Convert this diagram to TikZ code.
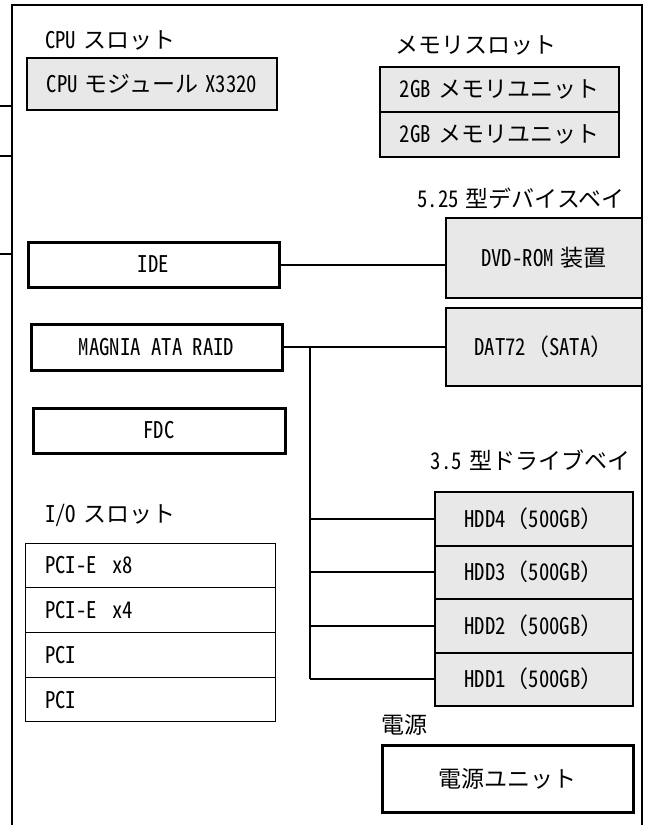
\documentclass[tikz,border=0pt]{standalone}
\usepackage{fontspec}
\setmainfont{Noto Sans CJK JP}
\newfontfamily\hw{Noto Sans CJK JP}[RawFeature=+hwid, FakeStretch=0.9]
\newcommand{\gapsp}{\hspace{7pt}}
\begin{document}
\begin{tikzpicture}[x=1pt,y=-1pt,
  every node/.style={font=\fontsize{23}{27}\selectfont, inner sep=0pt},
  lbl/.style={anchor=west},
  gbox/.style={draw, line width=2pt, fill=gray!18},
  wbox/.style={draw, line width=3pt, fill=white},
  slot/.style={draw, line width=1pt, minimum width=250, minimum height=44.75, inner xsep=20pt, text width=210, align=left},
  hdd/.style={gbox, minimum width=198, minimum height=53.5},
  conn/.style={line width=2pt},
]
\useasboundingbox (0,0) rectangle (650,825);
% frame
\draw[line width=2.5pt] (12,830) -- (12,5) -- (642,5) -- (642,830);
% left stubs
\coordinate (s1) at (0,106);  \coordinate (f1) at (12,106);
\coordinate (s2) at (0,156);  \coordinate (f2) at (12,156);
\coordinate (s3) at (0,254);  \coordinate (f3) at (12,254);
\draw[conn] (s1) -- (f1);
\draw[conn] (s2) -- (f2);
\draw[conn] (s3) -- (f3);
% CPU
\node[lbl] (cpul) at (45,40) {{\hw CPU}\gapsp スロット};
\node[gbox, minimum width=250, minimum height=52] (cpu) at (152,84) {{\hw CPU}\gapsp モジュール\gapsp{\hw X3320}};
% memory
\node (meml) at (476,45) {メモリスロット};
\node[gbox, minimum width=239, minimum height=45] (mem1) at (499.5,89.5) {{\hw 2GB}\gapsp メモリユニット};
\node[gbox, minimum width=239, minimum height=45] (mem2) at (499.5,134.5) {{\hw 2GB}\gapsp メモリユニット};
% 5.25 bay
\node (bayl) at (521,198) {{\hw 5.25}\gapsp 型デバイスベイ};
\node[gbox, minimum width=196, minimum height=80] (dvd) at (544,258) {{\hw DVD-ROM}\gapsp 装置};
\node[gbox, minimum width=196, minimum height=78] (dat) at (544,347) {{\hw DAT72}（{\hw SATA}）};
% controllers
\node[wbox, minimum width=251, minimum height=45] (ide) at (153.5,264.5) {\hw IDE};
\node[wbox, minimum width=251, minimum height=46] (raid) at (156.5,347) {\hw MAGNIA ATA RAID};
\node[wbox, minimum width=252, minimum height=45] (fdc) at (159,430.5) {\hw FDC};
\draw[conn] (ide.east) -- (ide.east -| dvd.west);
\draw[conn] (raid.east) -- (raid.east -| dat.west);
% I/O slots
\node[lbl] (iol) at (45,515) {{\hw I/O}\gapsp スロット};
\node[slot] (pci1) at (150,565.4) {\hw PCI-E\ \ x8};
\node[slot] (pci2) at (150,610.1) {\hw PCI-E\ \ x4};
\node[slot] (pci3) at (150,654.9) {\hw PCI};
\node[slot] (pci4) at (150,699.6) {\hw PCI};
% 3.5 bay
\node (drl) at (530.5,460) {{\hw 3.5}\gapsp 型ドライブベイ};
\node[hdd] (hdd4) at (534,518.75) {{\hw HDD4}（{\hw 500GB}）};
\node[hdd] (hdd3) at (534,572.25) {{\hw HDD3}（{\hw 500GB}）};
\node[hdd] (hdd2) at (534,625.75) {{\hw HDD2}（{\hw 500GB}）};
\node[hdd] (hdd1) at (534,679.25) {{\hw HDD1}（{\hw 500GB}）};
\coordinate (bt) at (310,347);
\draw[conn] (bt) -- (bt |- hdd1.west);
\draw[conn] (bt |- hdd4.west) -- (hdd4.west);
\draw[conn] (bt |- hdd3.west) -- (hdd3.west);
\draw[conn] (bt |- hdd2.west) -- (hdd2.west);
\draw[conn] (bt |- hdd1.west) -- (hdd1.west);
% power
\node[lbl] (pwl) at (381,725) {電源};
\node[wbox, minimum width=251, minimum height=67] (psu) at (507.5,778.5) {電源ユニット};
\end{tikzpicture}
\end{document}
